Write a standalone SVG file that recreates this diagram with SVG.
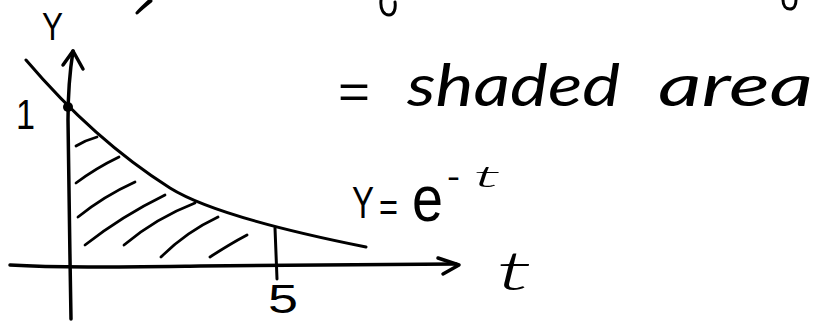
<svg xmlns="http://www.w3.org/2000/svg" width="818" height="324" viewBox="0 0 818 324">
<style>
.ln{fill:none;stroke:#000;stroke-width:3;stroke-linecap:round;stroke-linejoin:round}
.ax{fill:none;stroke:#000;stroke-width:3.5;stroke-linecap:round;stroke-linejoin:round}
.hs{fill:none;stroke:#000;stroke-width:2.8;stroke-linecap:round}
.sans{font-family:"Liberation Sans",Arial,sans-serif;font-weight:400;fill:#000}
.hand{font-family:Lato,"Liberation Serif",serif;font-style:italic;font-weight:400;fill:#000}
.thin{font-family:Lato,"Liberation Serif",serif;font-style:italic;font-weight:300;fill:#000}
</style>
<rect width="818" height="324" fill="#fff"/>
<g id="top-fragments" class="ln">
<path d="M150,0 C146,4 140,9 137,13 C141,9 146,5 151,1"/>
<path d="M381,0 C380,10 384,15 389,15 C394,15 396,9 395,2"/>
<path d="M783,0 C783,6 786,9 790,9 C794,9 796,5 796,0"/>
</g>
<g id="axes">
<path class="ax" d="M71,319 C70,250 68,160 68,120 C68,95 70,70 73,51"/>
<path class="ax" d="M63,65 L73,51 L83,69"/>
<path class="ax" d="M10,265 C60,268 120,267 200,266 C300,265 380,265 456,264"/>
<path class="ax" d="M438,258 L459,265 L443,274"/>
</g>
<g id="curve">
<path class="ln" d="M26,60 C60,100 110,150 170,188 C210,213 306,235 366,247"/>
<circle cx="68" cy="107" r="5" fill="#000"/>
<path class="ln" d="M275,228 L277,279"/>
</g>
<g id="hatching" class="hs">
<path d="M76,146 Q86,140 97,137"/>
<path d="M76,183 Q96,168 119,157"/>
<path d="M78,217 Q104,196 135,182"/>
<path d="M85,245 Q122,216 165,195"/>
<path d="M124,245 Q156,218 195,203"/>
<path d="M161,257 Q186,232 218,217"/>
<path d="M210,257 Q230,244 247,235"/>
</g>
<g id="labels">
<text class="sans" x="42" y="40" font-size="38" textLength="21" lengthAdjust="spacingAndGlyphs">Y</text>
<text class="sans" x="16" y="129" font-size="42" textLength="19" lengthAdjust="spacingAndGlyphs">1</text>
<text class="sans" x="268" y="313" font-size="40" textLength="30" lengthAdjust="spacingAndGlyphs">5</text>
<text class="thin" x="496" y="290" font-size="54" textLength="36" lengthAdjust="spacingAndGlyphs">t</text>
<text class="sans" x="338" y="108" font-size="48" textLength="32" lengthAdjust="spacingAndGlyphs">=</text>
<text class="hand" x="407" y="106" font-size="58" textLength="213" lengthAdjust="spacingAndGlyphs">shaded</text>
<text class="hand" x="658" y="106" font-size="58" textLength="155" lengthAdjust="spacingAndGlyphs">area</text>
<text class="sans" x="352" y="218" font-size="44" textLength="22" lengthAdjust="spacingAndGlyphs">Y</text>
<text class="sans" x="379" y="221" font-size="40" textLength="19" lengthAdjust="spacingAndGlyphs">=</text>
<text class="sans" x="412" y="221" font-size="64" textLength="31" lengthAdjust="spacingAndGlyphs">e</text>
<text class="sans" x="447" y="188" font-size="34" textLength="13" lengthAdjust="spacingAndGlyphs">-</text>
<text class="thin" x="473" y="187" font-size="30" textLength="28" lengthAdjust="spacingAndGlyphs">t</text>
</g>
</svg>
